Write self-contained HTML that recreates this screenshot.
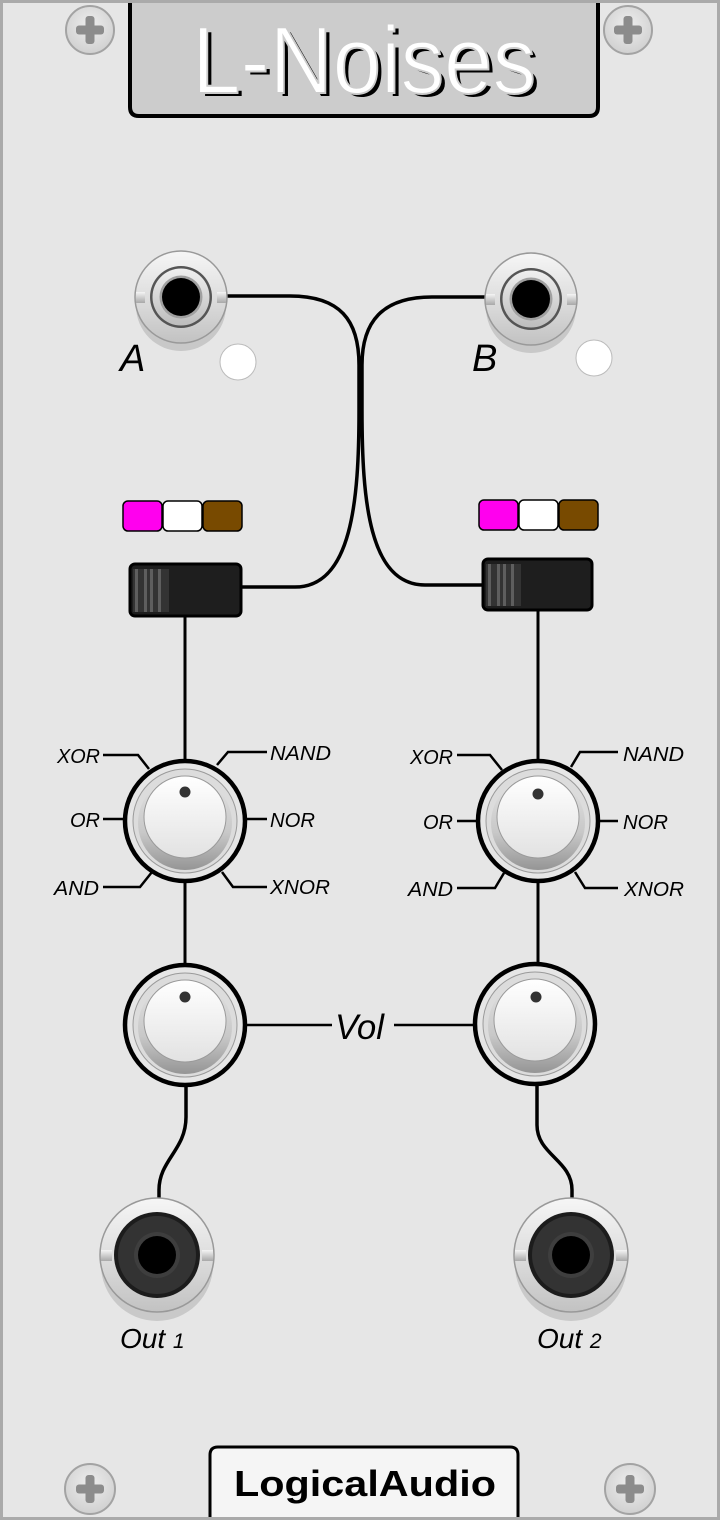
<!DOCTYPE html>
<html><head><meta charset="utf-8"><style>
html,body{margin:0;padding:0;background:#e6e6e6;}
svg{display:block;}
text{font-family:"Liberation Sans","DejaVu Sans",sans-serif;}
</style></head><body>
<svg width="720" height="1520" viewBox="0 0 720 1520" xmlns="http://www.w3.org/2000/svg">
<defs>
<linearGradient id="jo" x1="0" y1="0" x2="0" y2="1"><stop offset="0" stop-color="#f6f6f6"/><stop offset="0.5" stop-color="#dedede"/><stop offset="1" stop-color="#c2c2c2"/></linearGradient>
<linearGradient id="ji" x1="0" y1="0" x2="0" y2="1"><stop offset="0" stop-color="#f0f0f0"/><stop offset="1" stop-color="#bdbdbd"/></linearGradient>
<linearGradient id="sk" x1="0" y1="0" x2="0" y2="1"><stop offset="0" stop-color="#e4e4e4"/><stop offset="0.6" stop-color="#c8c8c8"/><stop offset="1" stop-color="#959595"/></linearGradient>
<linearGradient id="cap" x1="0" y1="0" x2="0" y2="1"><stop offset="0" stop-color="#ffffff"/><stop offset="1" stop-color="#e2e2e2"/></linearGradient>
<radialGradient id="scr" cx="0.5" cy="0.4" r="0.6"><stop offset="0" stop-color="#eeeeee"/><stop offset="1" stop-color="#d0d0d0"/></radialGradient>
<linearGradient id="ear" x1="0" y1="0" x2="0" y2="1"><stop offset="0" stop-color="#f4f4f4"/><stop offset="1" stop-color="#a8a8a8"/></linearGradient>
</defs>

<rect x="0" y="0" width="720" height="1520" fill="#e6e6e6"/>

<!-- screws -->
<g>
<circle cx="90" cy="30" r="24" fill="url(#scr)" stroke="#a3a3a3" stroke-width="2"/>
<rect x="76" y="25.5" width="28" height="9" rx="3" fill="#8c8c8c"/><rect x="85.5" y="16" width="9" height="28" rx="3" fill="#8c8c8c"/>
<circle cx="628" cy="30" r="24" fill="url(#scr)" stroke="#a3a3a3" stroke-width="2"/>
<rect x="614" y="25.5" width="28" height="9" rx="3" fill="#8c8c8c"/><rect x="623.5" y="16" width="9" height="28" rx="3" fill="#8c8c8c"/>
<circle cx="90" cy="1489" r="25" fill="url(#scr)" stroke="#a3a3a3" stroke-width="2"/>
<rect x="76" y="1484.5" width="28" height="9" rx="3" fill="#8c8c8c"/><rect x="85.5" y="1475" width="9" height="28" rx="3" fill="#8c8c8c"/>
<circle cx="630" cy="1489" r="25" fill="url(#scr)" stroke="#a3a3a3" stroke-width="2"/>
<rect x="616" y="1484.5" width="28" height="9" rx="3" fill="#8c8c8c"/><rect x="625.5" y="1475" width="9" height="28" rx="3" fill="#8c8c8c"/>
</g>

<!-- title plate -->
<path d="M130,0 V107 Q130,116 139,116 H589 Q598,116 598,107 V0" fill="#cccccc" stroke="#000" stroke-width="4"/>
<text x="197" y="97" font-size="96" fill="#000" stroke="#cccccc" stroke-width="2" textLength="344" lengthAdjust="spacingAndGlyphs">L-Noises</text>
<text x="192" y="93" font-size="96" fill="#fff" stroke="#cccccc" stroke-width="2" textLength="344" lengthAdjust="spacingAndGlyphs">L-Noises</text>

<!-- wires center -->
<g fill="none" stroke="#000" stroke-width="3.5">
<path d="M226,296 H290 C340,296 359,320 359,365 V410 C359,500 352,587 295,587 H242"/>
<path d="M487,297 H432 C382,297 362,322 362,365 V410 C362,500 369,585 425,585 H482"/>
</g>

<g stroke="#000" stroke-width="3" fill="none">
<line x1="185" y1="617" x2="185" y2="762"/>
<line x1="185" y1="880" x2="185" y2="966"/>
<line x1="538" y1="610" x2="538" y2="762"/>
<line x1="538" y1="880" x2="538" y2="964"/>
<path d="M186,1085 V1117 C186,1150 159,1160 159,1190 V1200" stroke-width="3.5"/>
<path d="M537,1085 V1125 C537,1155 572,1160 572,1190 V1200" stroke-width="3.5"/>
<line x1="245" y1="1025" x2="332" y2="1025" stroke-width="2.5"/>
<line x1="394" y1="1025" x2="475" y2="1025" stroke-width="2.5"/>
</g>

<g stroke="#000" stroke-width="2.5" fill="none">
<path d="M103,755 H138 L149,769"/>
<path d="M103,819 H124"/>
<path d="M103,887 H140 L152,872"/>
<path d="M267,752 H228 L217,765"/>
<path d="M246,819 H267"/>
<path d="M267,887 H233 L222,872"/>
<path d="M457,755 H490 L502,770"/>
<path d="M457,821 H477"/>
<path d="M457,888 H495 L504,873"/>
<path d="M618,752 H580 L571,767"/>
<path d="M600,821 H618"/>
<path d="M618,888 H585 L575,872"/>
</g>

<!-- input jacks -->
<g>
<circle cx="181" cy="306" r="45" fill="#c8c8c8"/>
<circle cx="181" cy="297" r="46" fill="url(#jo)" stroke="#999" stroke-width="1.5"/>
<rect x="136" y="292" width="9" height="11" fill="url(#ear)"/><rect x="217" y="292" width="9" height="11" fill="url(#ear)"/>
<circle cx="181" cy="297" r="31" fill="#555"/>
<circle cx="181" cy="297" r="28.5" fill="url(#ji)"/>
<circle cx="181" cy="297" r="21.5" fill="#a0a0a0"/>
<circle cx="181" cy="297" r="19" fill="#000"/>

<circle cx="531" cy="308" r="45" fill="#c8c8c8"/>
<circle cx="531" cy="299" r="46" fill="url(#jo)" stroke="#999" stroke-width="1.5"/>
<rect x="486" y="294" width="9" height="11" fill="url(#ear)"/><rect x="567" y="294" width="9" height="11" fill="url(#ear)"/>
<circle cx="531" cy="299" r="31" fill="#555"/>
<circle cx="531" cy="299" r="28.5" fill="url(#ji)"/>
<circle cx="531" cy="299" r="21.5" fill="#a0a0a0"/>
<circle cx="531" cy="299" r="19" fill="#000"/>
</g>

<circle cx="238" cy="362" r="18" fill="#fff" stroke="#bbb" stroke-width="1"/>
<circle cx="594" cy="358" r="18" fill="#fff" stroke="#bbb" stroke-width="1"/>

<text x="120" y="371" font-size="38" font-style="italic">A</text>
<text x="472" y="371" font-size="38" font-style="italic">B</text>

<g stroke="#000" stroke-width="1.5">
<rect x="123" y="501" width="39" height="30" rx="5" fill="#ff00ee"/>
<rect x="163" y="501" width="39" height="30" rx="5" fill="#ffffff"/>
<rect x="203" y="501" width="39" height="30" rx="5" fill="#784a00"/>
<rect x="479" y="500" width="39" height="30" rx="5" fill="#ff00ee"/>
<rect x="519" y="500" width="39" height="30" rx="5" fill="#ffffff"/>
<rect x="559" y="500" width="39" height="30" rx="5" fill="#784a00"/>
</g>

<g>
<rect x="130" y="564" width="111" height="52" rx="5" fill="#1e1e1e" stroke="#000" stroke-width="3"/>
<rect x="133" y="569" width="36" height="43" fill="#333"/>
<g fill="#5e5e5e"><rect x="135" y="569" width="3" height="43"/><rect x="144" y="569" width="3" height="43"/><rect x="150" y="569" width="3" height="43"/><rect x="158" y="569" width="3" height="43"/></g>
<rect x="483" y="559" width="109" height="51" rx="5" fill="#1e1e1e" stroke="#000" stroke-width="3"/>
<rect x="486" y="564" width="35" height="42" fill="#333"/>
<g fill="#5e5e5e"><rect x="488" y="564" width="3" height="42"/><rect x="497" y="564" width="3" height="42"/><rect x="503" y="564" width="3" height="42"/><rect x="511" y="564" width="3" height="42"/></g>
</g>

<!-- knobs -->
<g>
<circle cx="185" cy="821" r="60" fill="#e6e6e6" stroke="#000" stroke-width="4.5"/>
<circle cx="185" cy="821" r="52" fill="#dcdcdc" stroke="#9a9a9a" stroke-width="1"/>
<circle cx="185" cy="823" r="47" fill="url(#sk)"/>
<circle cx="185" cy="817" r="41" fill="url(#cap)" stroke="#9a9a9a" stroke-width="1"/>
<circle cx="185" cy="792" r="5.5" fill="#333"/>

<circle cx="538" cy="821" r="60" fill="#e6e6e6" stroke="#000" stroke-width="4.5"/>
<circle cx="538" cy="821" r="52" fill="#dcdcdc" stroke="#9a9a9a" stroke-width="1"/>
<circle cx="538" cy="823" r="47" fill="url(#sk)"/>
<circle cx="538" cy="817" r="41" fill="url(#cap)" stroke="#9a9a9a" stroke-width="1"/>
<circle cx="538" cy="794" r="5.5" fill="#333"/>

<circle cx="185" cy="1025" r="60" fill="#e6e6e6" stroke="#000" stroke-width="4.5"/>
<circle cx="185" cy="1025" r="52" fill="#dcdcdc" stroke="#9a9a9a" stroke-width="1"/>
<circle cx="185" cy="1027" r="47" fill="url(#sk)"/>
<circle cx="185" cy="1021" r="41" fill="url(#cap)" stroke="#9a9a9a" stroke-width="1"/>
<circle cx="185" cy="997" r="5.5" fill="#333"/>

<circle cx="535" cy="1024" r="60" fill="#e6e6e6" stroke="#000" stroke-width="4.5"/>
<circle cx="535" cy="1024" r="52" fill="#dcdcdc" stroke="#9a9a9a" stroke-width="1"/>
<circle cx="535" cy="1026" r="47" fill="url(#sk)"/>
<circle cx="535" cy="1020" r="41" fill="url(#cap)" stroke="#9a9a9a" stroke-width="1"/>
<circle cx="536" cy="997" r="5.5" fill="#333"/>
</g>

<g font-size="20" font-style="italic" fill="#000">
<text x="57" y="763" textLength="43" lengthAdjust="spacingAndGlyphs">XOR</text>
<text x="70" y="827" textLength="30" lengthAdjust="spacingAndGlyphs">OR</text>
<text x="54" y="895" textLength="45" lengthAdjust="spacingAndGlyphs">AND</text>
<text x="270" y="760" textLength="61" lengthAdjust="spacingAndGlyphs">NAND</text>
<text x="270" y="827" textLength="45" lengthAdjust="spacingAndGlyphs">NOR</text>
<text x="270" y="894" textLength="60" lengthAdjust="spacingAndGlyphs">XNOR</text>
<text x="410" y="764" textLength="43" lengthAdjust="spacingAndGlyphs">XOR</text>
<text x="423" y="829" textLength="30" lengthAdjust="spacingAndGlyphs">OR</text>
<text x="408" y="896" textLength="45" lengthAdjust="spacingAndGlyphs">AND</text>
<text x="623" y="761" textLength="61" lengthAdjust="spacingAndGlyphs">NAND</text>
<text x="623" y="829" textLength="45" lengthAdjust="spacingAndGlyphs">NOR</text>
<text x="624" y="896" textLength="60" lengthAdjust="spacingAndGlyphs">XNOR</text>
</g>

<text x="335" y="1039" font-size="35" font-style="italic" textLength="49" lengthAdjust="spacingAndGlyphs">Vol</text>

<!-- output jacks -->
<g>
<circle cx="157" cy="1265" r="56" fill="#c9c9c9"/>
<circle cx="157" cy="1255" r="57" fill="url(#jo)" stroke="#999" stroke-width="1.5"/>
<rect x="101" y="1250" width="11" height="11" fill="url(#ear)"/><rect x="202" y="1250" width="11" height="11" fill="url(#ear)"/>
<circle cx="157" cy="1255" r="43" fill="#1c1c1c"/>
<circle cx="157" cy="1255" r="39" fill="#333"/>
<circle cx="157" cy="1255" r="23" fill="#3e3e3e"/>
<circle cx="157" cy="1255" r="19" fill="#000"/>

<circle cx="571" cy="1265" r="56" fill="#c9c9c9"/>
<circle cx="571" cy="1255" r="57" fill="url(#jo)" stroke="#999" stroke-width="1.5"/>
<rect x="515" y="1250" width="11" height="11" fill="url(#ear)"/><rect x="616" y="1250" width="11" height="11" fill="url(#ear)"/>
<circle cx="571" cy="1255" r="43" fill="#1c1c1c"/>
<circle cx="571" cy="1255" r="39" fill="#333"/>
<circle cx="571" cy="1255" r="23" fill="#3e3e3e"/>
<circle cx="571" cy="1255" r="19" fill="#000"/>
</g>

<text x="120" y="1348" font-size="28" font-style="italic">Out <tspan font-size="21">1</tspan></text>
<text x="537" y="1348" font-size="28" font-style="italic">Out <tspan font-size="21">2</tspan></text>

<path d="M210,1520 V1455 Q210,1447 218,1447 H510 Q518,1447 518,1455 V1520" fill="#f5f5f5" stroke="#000" stroke-width="3"/>
<text x="234" y="1496" font-size="36" font-weight="bold" textLength="262" lengthAdjust="spacingAndGlyphs">LogicalAudio</text>

<rect x="1.5" y="1.5" width="717" height="1517" fill="none" stroke="#aaaaaa" stroke-width="3"/>
</svg>
</body></html>
